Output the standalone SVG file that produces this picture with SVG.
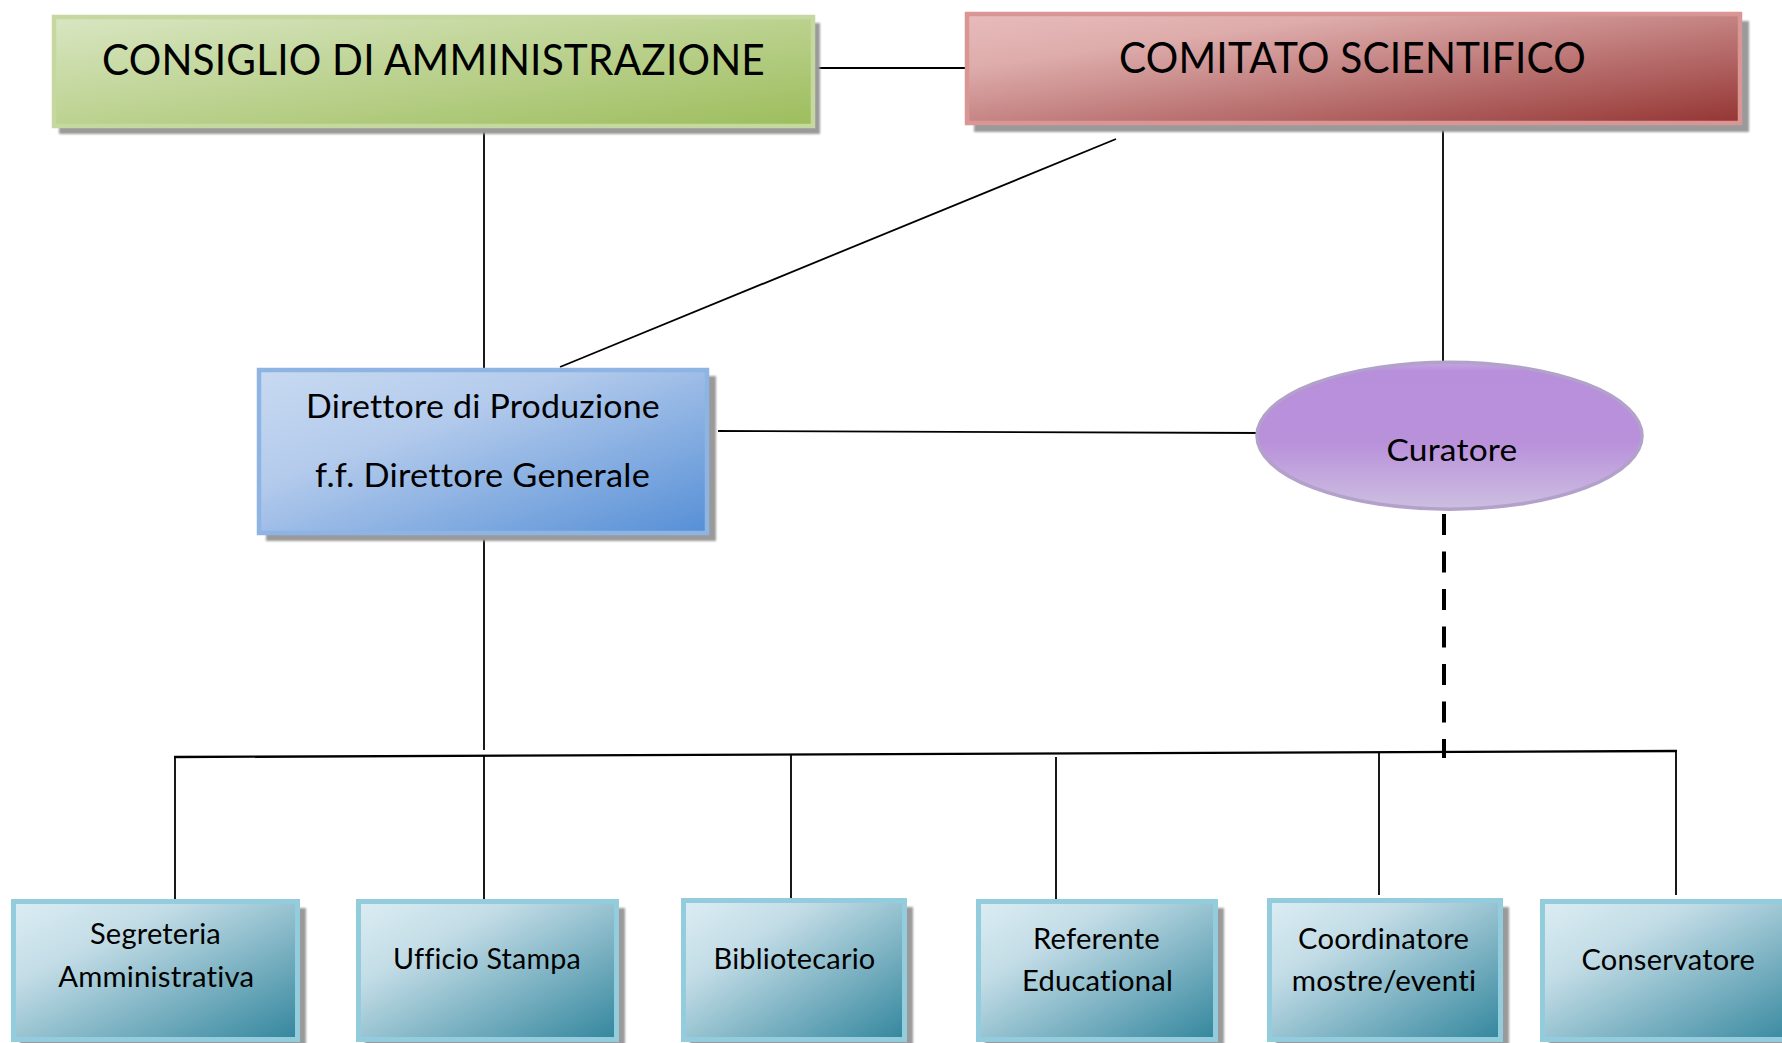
<svg xmlns="http://www.w3.org/2000/svg" width="1782" height="1043" viewBox="0 0 1782 1043">
<defs>
<linearGradient id="gGreen" x1="0" y1="0" x2="1" y2="1"><stop offset="0" stop-color="#d9e6c2"/><stop offset="1" stop-color="#9dbd5c"/></linearGradient>
<linearGradient id="gRed" x1="0" y1="0" x2="1" y2="1"><stop offset="0" stop-color="#e8bcbb"/><stop offset="0.25" stop-color="#ddacab"/><stop offset="1" stop-color="#943533"/></linearGradient>
<linearGradient id="gBlue" x1="0" y1="0" x2="1" y2="1"><stop offset="0" stop-color="#c8daf1"/><stop offset="0.35" stop-color="#b4cbec"/><stop offset="1" stop-color="#568fd6"/></linearGradient>
<linearGradient id="gTeal" x1="0" y1="0" x2="1" y2="1"><stop offset="0" stop-color="#dcedf3"/><stop offset="0.3" stop-color="#c2dce6"/><stop offset="1" stop-color="#33869d"/></linearGradient>
<linearGradient id="gPurple" x1="0" y1="0" x2="0" y2="1"><stop offset="0" stop-color="#c4a8e0"/><stop offset="0.06" stop-color="#b88fdb"/><stop offset="0.55" stop-color="#b991db"/><stop offset="1" stop-color="#cdbfe0"/></linearGradient>
<filter id="sh" x="-5%" y="-5%" width="115%" height="125%"><feGaussianBlur stdDeviation="1.2"/></filter>
</defs>
<style>
.shadow{fill:#9a9a9a;filter:url(#sh)}
.lbl{font-family:Lato,"Open Sans","Liberation Sans",sans-serif;fill:#000;text-anchor:middle;font-variant-ligatures:none;font-feature-settings:"liga" 0,"clig" 0,"dlig" 0;letter-spacing:0.2px}
.big{font-size:42.5px}
.mid{font-size:32px}
.sm{font-size:28.5px}
.teal{fill:url(#gTeal);stroke:#93cddd;stroke-width:5}
.ln{stroke:#000;stroke-width:1.8;fill:none}
.bus{stroke:#000;stroke-width:2.4;fill:none}
.dash{stroke:#000;stroke-width:4;stroke-dasharray:21 16.5;fill:none}
</style>
<rect width="1782" height="1043" fill="#ffffff"/>

<g id="connectors">
<line class="ln" x1="815" y1="68" x2="965" y2="68"/>
<line class="ln" x1="484" y1="128" x2="484" y2="368"/>
<line class="ln" x1="1116" y1="139" x2="560" y2="367"/>
<line class="ln" x1="1443" y1="125" x2="1443" y2="361"/>
<line class="ln" x1="718" y1="431" x2="1265" y2="433"/>
<line class="ln" x1="484" y1="535" x2="484" y2="750"/>
<line class="dash" x1="1444" y1="514" x2="1444" y2="758"/>
<line class="bus" x1="174" y1="757" x2="1677" y2="751"/>
<line class="ln" x1="175" y1="757" x2="175" y2="899"/>
<line class="ln" x1="484" y1="756" x2="484" y2="899"/>
<line class="ln" x1="791" y1="755" x2="791" y2="898"/>
<line class="ln" x1="1056" y1="757" x2="1056" y2="899"/>
<line class="ln" x1="1379" y1="752" x2="1379" y2="895"/>
<line class="ln" x1="1676" y1="751" x2="1676" y2="895"/>
</g>

<g id="consiglio">
<rect class="shadow" x="59" y="23" width="761" height="111"/>
<rect x="54" y="17" width="759" height="109" fill="url(#gGreen)" stroke="#c5d8a0" stroke-width="4.5"/>
<text class="lbl big" x="433.5" y="75" textLength="663" lengthAdjust="spacingAndGlyphs">CONSIGLIO DI AMMINISTRAZIONE</text>
</g>

<g id="comitato">
<rect class="shadow" x="974" y="21" width="775" height="111"/>
<rect x="967" y="14" width="773" height="109" fill="url(#gRed)" stroke="#d99694" stroke-width="4.5"/>
<text class="lbl big" x="1352.5" y="73" textLength="467" lengthAdjust="spacingAndGlyphs">COMITATO SCIENTIFICO</text>
</g>

<g id="direttore">
<rect class="shadow" x="266" y="376" width="450" height="165"/>
<rect x="259" y="370" width="448" height="163" fill="url(#gBlue)" stroke="#8eb4e3" stroke-width="4.5"/>
<text class="lbl mid" x="483" y="418" textLength="354" lengthAdjust="spacingAndGlyphs">Direttore di Produzione</text>
<text class="lbl mid" x="482.5" y="487" textLength="335" lengthAdjust="spacingAndGlyphs">f.f. Direttore Generale</text>
</g>

<g id="curatore">
<ellipse cx="1449.5" cy="435.7" rx="192.5" ry="73.5" fill="url(#gPurple)" stroke="#b2a1ca" stroke-width="3.5"/>
<text class="lbl" font-size="30.5" x="1452" y="461" textLength="131" lengthAdjust="spacingAndGlyphs">Curatore</text>
</g>

<g id="segreteria">
<rect class="shadow" x="20" y="908" width="286" height="140"/>
<rect class="teal" x="13.5" y="901.5" width="284" height="138"/>
<text class="lbl sm" x="155.5" y="944" textLength="131" lengthAdjust="spacingAndGlyphs">Segreteria</text>
<text class="lbl sm" x="156.3" y="987" textLength="196" lengthAdjust="spacingAndGlyphs">Amministrativa</text>
</g>

<g id="ufficio-stampa">
<rect class="shadow" x="365" y="908" width="260" height="140"/>
<rect class="teal" x="358.5" y="901.5" width="258" height="138"/>
<text class="lbl sm" x="487" y="969" textLength="188" lengthAdjust="spacingAndGlyphs">Ufficio Stampa</text>
</g>

<g id="bibliotecario">
<rect class="shadow" x="690" y="907" width="223" height="140"/>
<rect class="teal" x="683.5" y="900.5" width="221" height="139"/>
<text class="lbl sm" x="794.5" y="969" textLength="162" lengthAdjust="spacingAndGlyphs">Bibliotecario</text>
</g>

<g id="referente">
<rect class="shadow" x="985" y="908" width="239" height="140"/>
<rect class="teal" x="978.5" y="901.5" width="237" height="138"/>
<text class="lbl sm" x="1096.5" y="949" textLength="127" lengthAdjust="spacingAndGlyphs">Referente</text>
<text class="lbl sm" x="1097.5" y="990.5" textLength="151" lengthAdjust="spacingAndGlyphs">Educational</text>
</g>

<g id="coordinatore">
<rect class="shadow" x="1276" y="907" width="233" height="140"/>
<rect class="teal" x="1269.5" y="900.5" width="231" height="139"/>
<text class="lbl sm" x="1383.5" y="949" textLength="171" lengthAdjust="spacingAndGlyphs">Coordinatore</text>
<text class="lbl sm" x="1384" y="990.5" textLength="184.5" lengthAdjust="spacingAndGlyphs">mostre/eventi</text>
</g>

<g id="conservatore">
<rect class="shadow" x="1549" y="908" width="250" height="140"/>
<rect class="teal" x="1542.5" y="901.5" width="260" height="138"/>
<text class="lbl sm" x="1668.3" y="970" textLength="173.5" lengthAdjust="spacingAndGlyphs">Conservatore</text>
</g>
</svg>
